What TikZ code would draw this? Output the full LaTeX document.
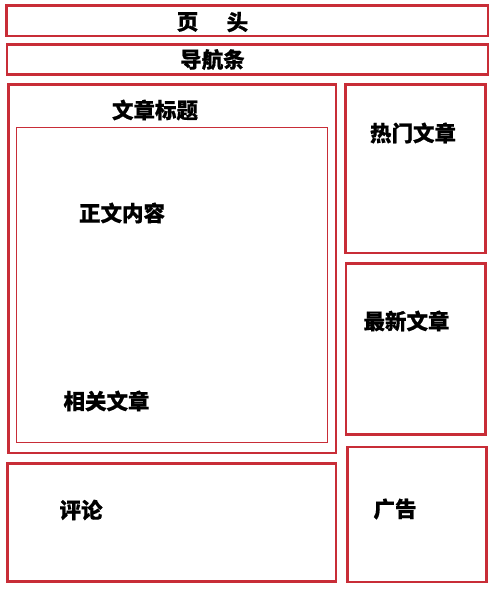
\documentclass[tikz,border=0pt]{standalone}
\usepackage{fontspec}
\newfontfamily\cjk{Noto Sans CJK SC Bold}[FakeBold=0.6]
\definecolor{boxred}{RGB}{200,45,55}
\begin{document}
\begin{tikzpicture}[x=1pt,y=-1pt,
  thickbox/.style={draw=boxred,line width=2.7pt},
  thinbox/.style={draw=boxred,line width=0.9pt},
  lbl/.style={font=\cjk\bfseries\fontsize{21.5}{23}\selectfont,inner sep=0pt,text=black}]
\useasboundingbox[fill=white] (0,0) rectangle (500,600);
% boxes
\draw[thickbox] (6.5,5.5) rectangle (488,36);
\draw[thickbox] (7,44.5) rectangle (488,74.5);
\draw[thickbox] (8.5,84.5) rectangle (336,453);
\draw[thinbox] (16.5,127.5) rectangle (327.5,442.5);
\draw[thickbox] (345.5,84.5) rectangle (485.5,253);
\draw[thickbox] (346,263.5) rectangle (485.5,434.5);
\draw[thickbox] (7.5,463.5) rectangle (336,581.5);
\draw[thickbox] (347.5,447) rectangle (486.5,582);
% labels
\node[lbl] (ye) at (187.5,22) {页};
\node[lbl] (tou) at (237.5,22) {头};
\node[lbl] (nav) at (212.5,59.5) {导航条};
\node[lbl] (title) at (155,110) {文章标题};
\node[lbl] (body) at (122,213) {正文内容};
\node[lbl] (rel) at (106.5,401) {相关文章};
\node[lbl] (cmt) at (81,510) {评论};
\node[lbl] (hot) at (413,133) {热门文章};
\node[lbl] (new) at (406.5,321) {最新文章};
\node[lbl] (ad) at (395,509) {广告};
\end{tikzpicture}
\end{document}
